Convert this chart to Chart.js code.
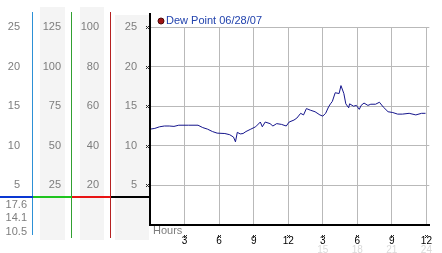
<!DOCTYPE html>
<html>
<head>
<meta charset="utf-8">
<script src="https://cdn.jsdelivr.net/npm/chart.js@4"></script>
<style>
  html, body { margin: 0; padding: 0; background: #fff; }
  canvas { display: block; }
</style>
</head>
<body>
<canvas id="dewChart" width="442" height="253"></canvas>
<script>
// Dew point readings, hours since midnight
const seriesLabel = 'Dew Point 06/28/07';
const hours = [
  0, 0.42, 0.83, 1.25, 1.67, 2.08, 2.5, 3.33, 4.17, 4.58,
  5.0, 5.42, 5.83, 6.5, 6.92, 7.25, 7.42, 7.58, 7.83, 8.08,
  8.33, 8.75, 9.17, 9.58, 9.75, 10.0, 10.42, 10.67, 11.0, 11.42,
  11.83, 12.08, 12.5, 12.75, 13.08, 13.33, 13.58, 13.92, 14.33, 14.75,
  15.0, 15.25, 15.5, 15.67, 15.83, 16.08, 16.42, 16.58, 16.83, 17.0,
  17.25, 17.33, 17.67, 17.92, 18.17, 18.33, 18.58, 18.92, 19.17, 19.58,
  19.92, 20.25, 20.67, 21.08, 21.5, 21.92, 22.5, 23.08, 23.58, 23.92
];
const dewPoint = [
  12.1, 12.2, 12.4, 12.5, 12.5, 12.45, 12.6, 12.6, 12.6, 12.3,
  12.1, 11.8, 11.6, 11.55, 11.4, 11.1, 10.5, 11.7, 11.5, 11.55,
  11.8, 12.1, 12.4, 13.0, 12.4, 13.0, 12.8, 12.5, 12.8, 12.7,
  12.5, 13.0, 13.25, 13.5, 14.1, 13.9, 14.7, 14.5, 14.3, 13.9,
  13.75, 14.1, 14.9, 15.3, 15.6, 16.7, 16.6, 17.6, 16.6, 15.3,
  14.8, 15.3, 15.0, 15.1, 14.6, 15.1, 15.4, 15.1, 15.25, 15.25,
  15.5, 14.9, 14.3, 14.2, 14.0, 14.0, 14.1, 13.9, 14.1, 14.1
];
// tick labels along the time axis
const clockLabels = ['', '3', '6', '9', '12', '3', '6', '9', '12'];
const dayHourLabels = ['', '', '', '', '', '15', '18', '21', '24'];

const FONT = 'Liberation Sans, Arial, sans-serif';
const GREY_TEXT = '#7d7d7d';

// side panel colours (vertical rule, divider bar)
const panels = {
  yA: { line: '#2c90d6', bar: '#0a38d2', top: 12, bottom: 235 },
  yB: { line: '#31a031', bar: '#1fc41f', top: 12, bottom: 238 },
  yC: { line: '#b52222', bar: '#e81414', top: 12, bottom: 238 },
  y:  { line: '#000000', bar: '#000000', top: 13, bottom: 225 }
};

function mark(ctx, x, y) {
  x = Math.round(x); y = Math.round(y);
  ctx.fillRect(x - 1, y - 1, 1, 1);
  ctx.fillRect(x + 1, y - 1, 1, 1);
  ctx.fillRect(x, y, 1, 1);
  ctx.fillRect(x - 1, y + 1, 1, 1);
  ctx.fillRect(x + 1, y + 1, 1, 1);
}

const decor = {
  id: 'decor',
  beforeDraw(chart) {
    const ctx = chart.ctx;
    const s = chart.scales;
    ctx.save();
    ctx.fillStyle = '#f4f4f4';
    ctx.fillRect(s.yB.left + 7, 7, s.yB.width - 14, 233);
    ctx.fillRect(s.yC.left + 8, 7, s.yC.width - 15, 233);
    ctx.fillRect(s.y.left + 4, 15, s.y.width - 5, 225);
    ctx.restore();
  },
  afterDraw(chart) {
    const ctx = chart.ctx;
    const s = chart.scales;
    const area = chart.chartArea;
    ctx.save();

    // vertical rules and the divider bar under each side scale
    const divY = area.bottom - 29;
    Object.keys(panels).forEach(id => {
      const p = panels[id];
      const sc = s[id];
      ctx.fillStyle = p.line;
      if (id === 'y') {
        ctx.fillRect(sc.right - 1, p.top, 2, p.bottom - p.top);
      } else {
        ctx.fillRect(Math.round(sc.right) - 1, p.top, 1, p.bottom - p.top);
      }
      ctx.fillStyle = p.bar;
      ctx.fillRect(sc.left, divY, sc.right - sc.left, 2);
    });

    // max / last / min summary
    const last = dewPoint[dewPoint.length - 1];
    const summary = [Math.max(...dewPoint), last, Math.min(...dewPoint)];
    ctx.font = '11px ' + FONT;
    ctx.fillStyle = GREY_TEXT;
    ctx.textAlign = 'right';
    ctx.textBaseline = 'middle';
    summary.forEach((v, i) => {
      ctx.fillText(v.toFixed(1), 27, area.bottom - 20 + i * 13.3);
    });

    // little tick marks
    ctx.fillStyle = '#2a2a2a';
    s.y.ticks.forEach(t => {
      if (t.value > 0) mark(ctx, s.y.right - 3, s.y.getPixelForValue(t.value));
    });
    s.x.ticks.forEach(t => {
      if (t.value > 0) mark(ctx, s.x.getPixelForValue(t.value), area.bottom + 11);
    });

    // axis caption
    ctx.textAlign = 'left';
    ctx.fillStyle = GREY_TEXT;
    ctx.fillText('Hours', area.left + 3, area.bottom + 6);

    // legend
    const ds = chart.data.datasets[0];
    ctx.beginPath();
    ctx.arc(161, 21, 3, 0, Math.PI * 2);
    ctx.fillStyle = '#a01212';
    ctx.fill();
    ctx.lineWidth = 1;
    ctx.strokeStyle = '#4a0a0a';
    ctx.stroke();
    ctx.fillStyle = '#2142ad';
    ctx.fillText(ds.label, 166, 21);

    ctx.restore();
  }
};

const sideTicks = (padding) => ({
  color: GREY_TEXT,
  font: { family: FONT, size: 11 },
  padding: padding,
  callback: v => (v === 0 ? '' : v)
});

const ctx = document.getElementById('dewChart');
const dewChart = new Chart(ctx, {
  type: 'line',
  data: {
    datasets: [{
      label: seriesLabel,
      data: hours.map((h, i) => ({ x: h, y: dewPoint[i] })),
      borderColor: '#15158c',
      borderWidth: 1,
      pointRadius: 0,
      tension: 0,
      yAxisID: 'y'
    }]
  },
  options: {
    responsive: false,
    animation: false,
    devicePixelRatio: 1,
    layout: { padding: { top: 27, right: 1, left: 0, bottom: 0 } },
    plugins: {
      legend: { display: false },
      tooltip: { enabled: false }
    },
    scales: {
      x: {
        type: 'linear',
        position: 'bottom',
        min: 0,
        max: 24.25,
        weight: 0,
        ticks: {
          stepSize: 3,
          includeBounds: false,
          color: '#000',
          font: { family: FONT, size: 10 },
          padding: 10,
          maxRotation: 0,
          autoSkip: false,
          callback: (v, i) => clockLabels[i]
        },
        grid: { color: '#b9b9b9', drawTicks: false },
        border: { color: '#000', width: 2 },
        afterFit: sc => { sc.height = 19; }
      },
      x2: {
        type: 'linear',
        position: 'bottom',
        min: 0,
        max: 24.25,
        weight: 1,
        ticks: {
          stepSize: 3,
          includeBounds: false,
          color: '#dadada',
          font: { family: FONT, size: 10 },
          padding: 0,
          maxRotation: 0,
          autoSkip: false,
          callback: (v, i) => dayHourLabels[i]
        },
        grid: { display: false, drawTicks: false },
        border: { display: false },
        afterFit: sc => { sc.height = 9; }
      },
      yA: {
        position: 'left', weight: 3, min: 0, max: 25,
        ticks: Object.assign(sideTicks(13), { stepSize: 5 }),
        grid: { display: false, drawTicks: false },
        border: { display: false },
        afterFit: sc => { sc.width = 33; }
      },
      yB: {
        position: 'left', weight: 2, min: 0, max: 125,
        ticks: Object.assign(sideTicks(11), { stepSize: 25 }),
        grid: { display: false, drawTicks: false },
        border: { display: false },
        afterFit: sc => { sc.width = 39; }
      },
      yC: {
        position: 'left', weight: 1, min: 0, max: 100,
        ticks: Object.assign(sideTicks(12), { stepSize: 20 }),
        grid: { display: false, drawTicks: false },
        border: { display: false },
        afterFit: sc => { sc.width = 39; }
      },
      y: {
        position: 'left', weight: 0, min: 0, max: 25,
        ticks: Object.assign(sideTicks(13), { stepSize: 5 }),
        grid: { color: '#b9b9b9', drawTicks: false },
        border: { display: false },
        afterFit: sc => { sc.width = 39; }
      }
    }
  },
  plugins: [decor]
});
</script>
</body>
</html>
